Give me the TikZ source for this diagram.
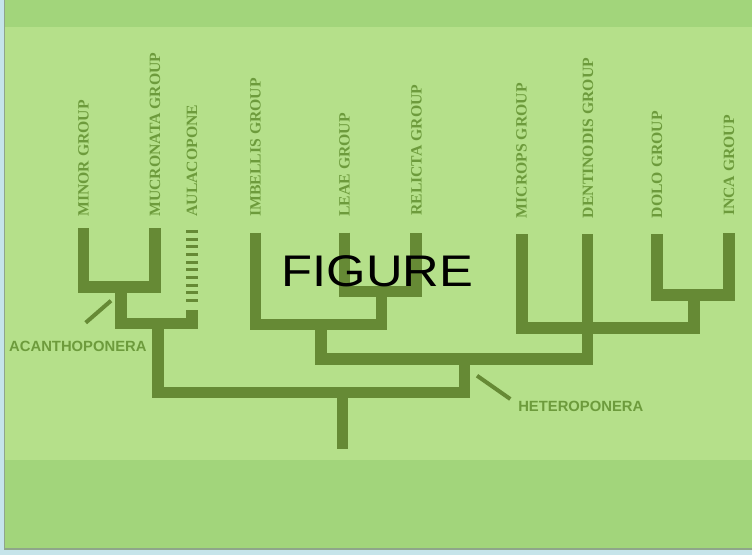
\documentclass[tikz,border=0pt]{standalone}
\usepackage{fontspec}
\setmainfont{Liberation Serif}
\newfontfamily\lsans{Liberation Sans}
\definecolor{bgblue}{HTML}{C5E4EA}
\definecolor{edgegray}{HTML}{8FA68A}
\definecolor{bandgreen}{HTML}{A2D57B}
\definecolor{maingreen}{HTML}{B5E08A}
\definecolor{barcol}{HTML}{668A35}
\definecolor{txtcol}{HTML}{6D9B3C}
\tikzset{
  branch/.style={draw=barcol, line width=11.5pt, line cap=butt, line join=miter},
  pointer/.style={draw=barcol, line width=4pt, line cap=butt},
  taxon/.style={rotate=90, anchor=west, inner sep=0pt, text=txtcol,
    font=\bfseries\fontsize{15.7}{18}\selectfont},
  cladelabel/.style={inner sep=0pt, text=txtcol,
    font=\lsans\bfseries\fontsize{14.8}{17}\selectfont},
}
\begin{document}
\begin{tikzpicture}[x=1pt,y=-1pt]
\useasboundingbox (0,0) rectangle (752,555);
% background
\fill[bgblue] (0,0) rectangle (752,555);
\fill[edgegray] (3.5,0) rectangle (752,550);
\fill[maingreen] (4.5,0) rectangle (752,548.3);
\fill[bandgreen] (4.5,0) rectangle (752,27);
\fill[bandgreen] (4.5,460) rectangle (752,548.3);

% taxon labels
\node[taxon] (minor) at (83.5,216.7) {MINOR GROUP};
\node[taxon] (mucro) at (155,216.7) {MUCRONATA GROUP};
\node[taxon] (aula) at (192,216.7) {AULACOPONE};
\node[taxon] (imbel) at (255.5,216.7) {IMBELLIS GROUP};
\node[taxon] (leae) at (344.5,216.7) {LEAE GROUP};
\node[taxon] (relic) at (416.5,216) {RELICTA GROUP};
\node[taxon] (micro) at (521.5,218.3) {MICROPS GROUP};
\node[taxon] (denti) at (588,218.3) {DENTINODIS GROUP};
\node[taxon] (dolo) at (657,218.3) {DOLO GROUP};
\node[taxon] (inca) at (729,216) {INCA GROUP};

% tree coordinates
\coordinate (tMinor) at (83.5,228);
\coordinate (tMucro) at (155,228);
\coordinate (tImbel) at (255.5,232.7);
\coordinate (tLeae) at (344.5,232.7);
\coordinate (tRelic) at (416,232.7);
\coordinate (tMicro) at (522,234);
\coordinate (tDenti) at (587.7,234);
\coordinate (tDolo) at (657,234);
\coordinate (tInca) at (729,232.7);

% Acanthoponera clade
\draw[branch] (tMinor) -- (83.5,286.8) -- (155,286.8) -- (tMucro);
\draw[branch] (121,286.8) -- (121,323.7) -- (192,323.7) -- (192,310.3);
\draw[draw=barcol, line width=11.6pt, line cap=butt, dash pattern=on 3pt off 4.7pt]
  (192,229.8) -- (192,302.2);
\draw[branch] (158,323.7) -- (158,392.5) -- (464.5,392.5) -- (464.5,359);
% root
\coordinate (root) at (342.5,449.3);
\draw[branch] (342.5,392.5) -- (root);

% Heteroponera clade
\draw[branch] (tLeae) -- (344.5,291.3) -- (416,291.3) -- (tRelic);
\draw[branch] (tImbel) -- (255.5,324.5) -- (381.5,324.5) -- (381.5,291.3);
\draw[branch] (321,324.5) -- (321,359) -- (587.7,359) -- (tDenti);
\draw[branch] (tMicro) -- (522,328.2) -- (694,328.2) -- (694,294.8);
\draw[branch] (tDolo) -- (657,294.8) -- (729,294.8) -- (tInca);

% pointers and clade labels
\node[cladelabel] (acan) at (77.9,346) {ACANTHOPONERA};
\coordinate (acanA) at (85.7,322.7);
\coordinate (acanB) at (111,300.7);
\draw[pointer] (acanA) -- (acanB);
\node[cladelabel] (hete) at (580.8,406) {HETEROPONERA};
\coordinate (heteA) at (477,375.7);
\coordinate (heteB) at (510.3,399);
\draw[pointer] (heteA) -- (heteB);

% overlay text
\node[inner sep=0pt, xscale=1.145, font=\lsans\fontsize{44.3}{50}\selectfont] (fig) at (377.5,271) {FIGURE};
\end{tikzpicture}
\end{document}
